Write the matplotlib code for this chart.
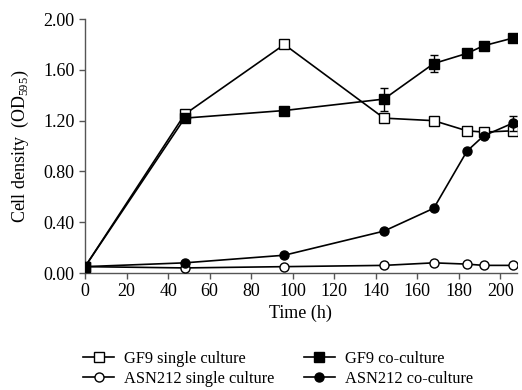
import matplotlib
matplotlib.use("Agg")
import matplotlib.pyplot as plt
from matplotlib.lines import Line2D

plt.rcParams['font.family'] = ['Liberation Serif', 'DejaVu Serif']
plt.rcParams['mathtext.fontset'] = 'custom'
plt.rcParams['mathtext.rm'] = 'Liberation Serif'

# sampling times (h)
time_h = [0, 48, 96, 144, 168, 184, 192, 206]

# OD595 readings
gf9_single = [0.05, 1.25, 1.80, 1.22, 1.20, 1.12, 1.11, 1.12]
gf9_co = [0.05, 1.22, 1.28, 1.37, 1.65, 1.73, 1.79, 1.85]
asn_single = [0.05, 0.04, 0.05, 0.06, 0.08, 0.07, 0.06, 0.06]
asn_co = [0.05, 0.08, 0.14, 0.33, 0.51, 0.96, 1.08, 1.18]

# error bars (only visible ones)
gf9_co_err = [0, 0, 0, 0.09, 0.065, 0, 0, 0]
asn_co_err = [0, 0, 0, 0, 0, 0, 0, 0.06]

labels = ['GF9 single culture', 'ASN212 single culture',
          'GF9 co-culture', 'ASN212 co-culture']

fig = plt.figure(figsize=(5.22, 3.90), dpi=100)
ax = fig.add_axes([0.163, 0.30, 0.827, 0.651])

common = dict(color='black', lw=1.2, markersize=6.5, markeredgewidth=1.0,
              capsize=3, elinewidth=1.0, capthick=1.0)

ax.errorbar(time_h, gf9_single, marker='s', mfc='white', mec='black', zorder=3, **common)
ax.errorbar(time_h, asn_single, marker='o', mfc='white', mec='black', zorder=3, **common)
ax.errorbar(time_h, gf9_co, yerr=gf9_co_err, marker='s', mfc='black', mec='black',
            zorder=4, **common)
ax.errorbar(time_h, asn_co, yerr=asn_co_err, marker='o', mfc='black', mec='black',
            zorder=4, **common)

ax.set_xlim(0, 208)
ax.set_ylim(0, 2.0)
ax.set_xticks(range(0, 201, 20))
ax.set_yticks([0, 0.4, 0.8, 1.2, 1.6, 2.0])
ax.set_yticklabels(['%.2f' % v for v in [0, 0.4, 0.8, 1.2, 1.6, 2.0]])
ax.spines['top'].set_visible(False)
ax.spines['right'].set_visible(False)
for s in ['left', 'bottom']:
    ax.spines[s].set_color('#555555')
    ax.spines[s].set_linewidth(1.0)
ax.tick_params(direction='out', length=4, width=1.0, color='#555555', labelsize=13)
ax.set_xlabel('Time (h)', fontsize=13, labelpad=3)
ax.set_ylabel('Cell density  (OD$_{595}$)', fontsize=13, labelpad=9)

# legend handles without error bars
h1 = Line2D([], [], color='black', lw=1.2, marker='s', mfc='white', mec='black', markersize=6.5)
h2 = Line2D([], [], color='black', lw=1.2, marker='o', mfc='white', mec='black', markersize=6.5)
h3 = Line2D([], [], color='black', lw=1.2, marker='s', mfc='black', mec='black', markersize=6.5)
h4 = Line2D([], [], color='black', lw=1.2, marker='o', mfc='black', mec='black', markersize=6.5)
fig.legend([h1, h2, h3, h4], labels, ncol=2, loc='upper left',
           bbox_to_anchor=(0.159, 0.1), frameon=False, fontsize=11.8,
           handlelength=1.9, handletextpad=0.6, columnspacing=1.8,
           labelspacing=0.25, borderpad=0, borderaxespad=0)

fig.savefig('out.png', dpi=100)
